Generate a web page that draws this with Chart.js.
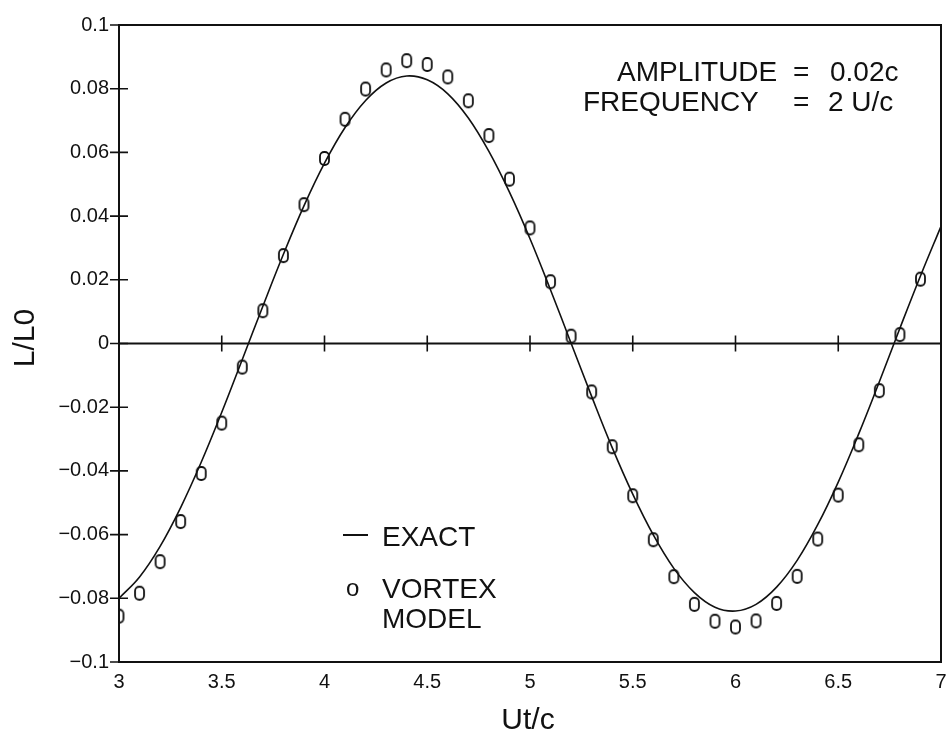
<!DOCTYPE html>
<html>
<head>
<meta charset="utf-8">
<title>L/L0 vs Ut/c</title>
<script src="https://cdn.jsdelivr.net/npm/chart.js@4.4.1/dist/chart.umd.min.js"></script>
<style>
  html, body { margin: 0; padding: 0; background: #fff; }
  #wrap { width: 946px; height: 737px; }
</style>
</head>
<body>
<div id="wrap"><canvas id="liftChart" width="946" height="737"></canvas></div>
<script>
// Exact solution, sampled every 0.1 Ut/c
const exactX = [3.0, 3.1, 3.2, 3.3, 3.4, 3.5, 3.6, 3.7, 3.8, 3.9,
                4.0, 4.1, 4.2, 4.3, 4.4, 4.5, 4.6, 4.7, 4.8, 4.9,
                5.0, 5.1, 5.2, 5.3, 5.4, 5.5, 5.6, 5.7, 5.8, 5.9,
                6.0, 6.1, 6.2, 6.3, 6.4, 6.5, 6.6, 6.7, 6.8, 6.9, 7.0];
const exactLift = [-0.0800, -0.0733, -0.0637, -0.0515, -0.0373, -0.0216, -0.0050, 0.0117, 0.0280, 0.0432,
                   0.0566, 0.0678, 0.0763, 0.0818, 0.0840, 0.0828, 0.0784, 0.0708, 0.0603, 0.0475,
                   0.0329, 0.0168, 0.0001, -0.0166, -0.0327, -0.0473, -0.0601, -0.0706, -0.0782, -0.0828,
                   -0.0840, -0.0819, -0.0765, -0.0681, -0.0569, -0.0435, -0.0283, -0.0120, 0.0048, 0.0212, 0.0368];

// Vortex model results
const vortexX = [3.0, 3.1, 3.2, 3.3, 3.4, 3.5, 3.6, 3.7, 3.8, 3.9,
                 4.0, 4.1, 4.2, 4.3, 4.4, 4.5, 4.6, 4.7, 4.8, 4.9,
                 5.0, 5.1, 5.2, 5.3, 5.4, 5.5, 5.6, 5.7, 5.8, 5.9,
                 6.0, 6.1, 6.2, 6.3, 6.4, 6.5, 6.6, 6.7, 6.8, 6.9];
const vortexLift = [-0.0856, -0.0784, -0.0685, -0.0559, -0.0408, -0.0250, -0.0074, 0.0103, 0.0276, 0.0436,
                    0.0581, 0.0704, 0.0799, 0.0859, 0.0888, 0.0876, 0.0837, 0.0762, 0.0653, 0.0516,
                    0.0363, 0.0194, 0.0023, -0.0152, -0.0324, -0.0478, -0.0616, -0.0732, -0.0819, -0.0872,
                    -0.0890, -0.0871, -0.0816, -0.0731, -0.0614, -0.0476, -0.0318, -0.0148, 0.0028, 0.0202];

const xTicks = [3, 3.5, 4, 4.5, 5, 5.5, 6, 6.5, 7];
const yTicks = [-0.1, -0.08, -0.06, -0.04, -0.02, 0, 0.02, 0.04, 0.06, 0.08, 0.1];

const INK = '#111';
const FONT = "'Liberation Sans', Arial, sans-serif";
Chart.defaults.font.family = FONT;
Chart.defaults.color = INK;

// "0"-shaped marker used by the vortex model points
function makeMarker() {
    const c = document.createElement('canvas');
    c.width = 13;
    c.height = 17;
    const g = c.getContext('2d');
    g.strokeStyle = INK;
    g.lineWidth = 1.8;
    g.beginPath();
    g.roundRect(2, 2, 9, 13, 4.2);
    g.stroke();
    return c;
}

function fmt(v) {
    const s = String(Number(v.toFixed(2)));
    return s.replace('-', '\u2212');
}

// frame, zero line, cross ticks and the free text on the plot
const plotDecor = {
    id: 'plotDecor',
    beforeDatasetsDraw(chart) {
        const { ctx, chartArea: a, scales: { x, y } } = chart;
        ctx.save();
        ctx.strokeStyle = INK;
        ctx.lineWidth = 2;
        ctx.strokeRect(a.left, a.top, a.right - a.left, a.bottom - a.top);

        const y0 = y.getPixelForValue(0);
        ctx.beginPath();
        ctx.moveTo(a.left, y0);
        ctx.lineTo(a.right, y0);
        ctx.stroke();

        ctx.lineWidth = 1.6;
        ctx.beginPath();
        yTicks.forEach(v => {
            const py = y.getPixelForValue(v);
            ctx.moveTo(a.left - 9, py);
            ctx.lineTo(a.left + 9, py);
        });
        xTicks.slice(1, -1).forEach(v => {
            const px = x.getPixelForValue(v);
            ctx.moveTo(px, y0 - 8);
            ctx.lineTo(px, y0 + 8);
        });
        ctx.stroke();
        ctx.restore();
    },
    afterDraw(chart) {
        const { ctx } = chart;
        ctx.save();
        ctx.fillStyle = INK;
        ctx.strokeStyle = INK;

        // axis titles
        ctx.font = '30px ' + FONT;
        ctx.textAlign = 'center';
        ctx.textBaseline = 'alphabetic';
        ctx.fillText('Ut/c', 528, 729);
        ctx.save();
        ctx.translate(34, 338);
        ctx.rotate(-Math.PI / 2);
        ctx.fillText('L/L0', 0, 0);
        ctx.restore();

        // case parameters
        ctx.font = '28px ' + FONT;
        ctx.textAlign = 'left';
        ctx.fillText('AMPLITUDE', 617, 81);
        ctx.fillText('=', 793, 81);
        ctx.fillText('0.02c', 830, 81);
        ctx.fillText('FREQUENCY', 583, 111);
        ctx.fillText('=', 793, 111);
        ctx.fillText('2 U/c', 828, 111);

        // legend
        ctx.lineWidth = 2;
        ctx.beginPath();
        ctx.moveTo(343, 535);
        ctx.lineTo(368, 535);
        ctx.stroke();
        ctx.fillText('EXACT', 382, 546);
        ctx.font = '24px ' + FONT;
        ctx.fillText('o', 346, 596);
        ctx.font = '28px ' + FONT;
        ctx.fillText('VORTEX', 382, 598);
        ctx.fillText('MODEL', 382, 628);
        ctx.restore();
    }
};

const ctx = document.getElementById('liftChart').getContext('2d');
new Chart(ctx, {
    type: 'scatter',
    data: {
        datasets: [{
            label: 'EXACT',
            data: exactX.map((v, i) => ({ x: v, y: exactLift[i] })),
            showLine: true,
            borderColor: INK,
            borderWidth: 1.6,
            pointRadius: 0,
            tension: 0.4
        }, {
            label: 'VORTEX MODEL',
            data: vortexX.map((v, i) => ({ x: v, y: vortexLift[i] })),
            showLine: false,
            pointStyle: makeMarker()
        }]
    },
    options: {
        responsive: false,
        animation: false,
        devicePixelRatio: 1,
        layout: { padding: { top: 25, right: 1, left: 0, bottom: 0 } },
        plugins: {
            legend: { display: false },
            tooltip: { enabled: false }
        },
        scales: {
            x: {
                type: 'linear',
                min: 3,
                max: 7,
                afterBuildTicks: scale => { scale.ticks = xTicks.map(v => ({ value: v })); },
                afterFit: scale => {
                    scale.height = 75;
                    scale.paddingLeft = 0;
                    scale.paddingRight = 0;
                },
                grid: { display: false, drawTicks: false },
                border: { display: false },
                ticks: {
                    padding: 8,
                    maxRotation: 0,
                    autoSkip: false,
                    font: { size: 20 },
                    callback: v => fmt(v)
                }
            },
            y: {
                type: 'linear',
                min: -0.1,
                max: 0.1,
                afterBuildTicks: scale => { scale.ticks = yTicks.map(v => ({ value: v })); },
                afterFit: scale => {
                    scale.width = 119;
                    scale.paddingTop = 0;
                    scale.paddingBottom = 0;
                },
                grid: { display: false, drawTicks: false },
                border: { display: false },
                ticks: {
                    padding: 10,
                    autoSkip: false,
                    font: { size: 20 },
                    callback: v => fmt(v)
                }
            }
        }
    },
    plugins: [plotDecor]
});
</script>
</body>
</html>
